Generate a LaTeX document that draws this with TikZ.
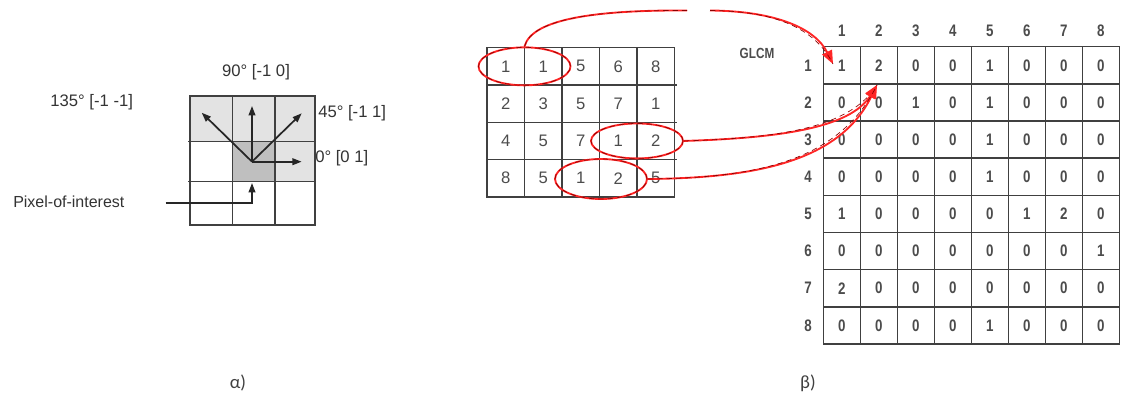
\documentclass[tikz,border=0pt]{standalone}
\usepackage{fontspec}
\setmainfont{Liberation Sans}
\newfontfamily\condfont[FakeStretch=0.8]{Liberation Sans}
\newfontfamily\calibfont{Carlito}
\usetikzlibrary{arrows.meta,calc,shapes.geometric}
\tikzset{
  gridline/.style={draw=black!75, line width=1.1pt},
  lbl/.style={font=\fontsize{12.5}{13}\selectfont, text=black!80, inner sep=0pt},
  dirarrow/.style={-{Triangle[length=7pt,width=5pt]}, line width=1.3pt, draw=black!85},
  cellnum/.style={font=\fontsize{12.5}{13}\selectfont, text=black!70, inner sep=0pt},
  glcmnum/.style={font=\condfont\bfseries\fontsize{12.5}{13}\selectfont, text=black!70, inner sep=0pt},
  redline/.style={draw=red!85!white, line width=1.4pt,
    postaction={draw=red!55!black, line width=0.5pt, dash pattern=on 4pt off 3pt, arrows=-}},
  redarrow/.style={redline, -{Triangle[length=10pt,width=8pt]}},
  redell/.style={ellipse, redline, inner sep=0pt},
  caption/.style={font=\calibfont\fontsize{14}{15}\selectfont, text=black!75, inner sep=0pt}
}
\begin{document}
\begin{tikzpicture}[x=0.75pt,y=-0.75pt]
\useasboundingbox (0,0) rectangle (1121,398);

% ---------- left: directions ----------
\fill[gray!22] (190,96) rectangle (315,141.7);
\fill[gray!22] (275,141.7) rectangle (315,181.7);
\fill[gray!50] (232.3,141.7) rectangle (275,181.7);
\draw[gridline] (190,96) rectangle (315,225);
\foreach \x in {232.3,275} \draw[gridline] (\x,96) -- (\x,225);
\foreach \y in {141.7,181.7} \draw[gridline] (188,\y) -- (315,\y);

\coordinate (O) at (252,161.7);
\coordinate (d135) at (201.7,112.7);
\coordinate (d90) at (252,106);
\coordinate (d45) at (301.7,113.3);
\coordinate (d0) at (301.7,161.7);
\draw[dirarrow] (O) -- (d135);
\draw[dirarrow] (O) -- (d90);
\draw[dirarrow] (O) -- (d45);
\draw[dirarrow] (O) -- (d0);

\node[lbl] (l90) at (256,71.7) {90° [-1 0]};
\node[lbl] (l135) at (91.7,101.7) {135° [-1 -1]};
\node[lbl, anchor=west] (l45) at (318,113.3) {45° [-1 1]};
\node[lbl, anchor=west] (l0) at (315,158) {0° [0 1]};
\node[lbl, anchor=west, font=\fontsize{12}{13}\selectfont] (lpix) at (13,201.7) {Pixel-of-interest};
\coordinate (p0) at (165.7,202.7);
\coordinate (pt) at (252,183);
\draw[dirarrow] (p0) -| (pt);

\node[caption] (alpha) at (238,383) {α)};

% ---------- middle: image ----------
\draw[gridline] (487,47.7) rectangle (674.5,196.9);
\foreach \k in {1,...,4} \draw[gridline] ({487+37.5*\k},47.7) -- ({487+37.5*\k},196.9);
\foreach \k in {1,...,3} \draw[gridline] (487,{47.7+37.3*\k}) -- (676.5,{47.7+37.3*\k});
\foreach \row [count=\r] in {{1,1,5,6,8},{2,3,5,7,1},{4,5,7,1,2},{8,5,1,2,5}} {
  \foreach \v [count=\c] in \row {
    \node[cellnum] (a-\r-\c) at ({505.75+37.5*(\c-1)},{66.35+37.3*(\r-1)}) {\v};
  }
}
\node[redell, minimum width=69pt, minimum height=28.5pt] (e1) at (524.5,66.35) {};
\node[redell, minimum width=69pt, minimum height=26.25pt] (e2) at (637,140.95) {};
\node[redell, minimum width=69pt, minimum height=30pt] (e3) at (601,179) {};

% ---------- right: GLCM ----------
\node[font=\condfont\bfseries\fontsize{11}{12}\selectfont, text=black!70, inner sep=0pt] (glcm) at (757,53) {GLCM};
\draw[gridline] (823.3,46.7) rectangle (1119.3,344);
\foreach \k in {1,...,7} \draw[gridline] ({823.3+37*\k},46.7) -- ({823.3+37*\k},344);
\foreach \k in {1,...,7} \draw[gridline] (823.3,{46.7+37.16*\k}) -- (1119.3,{46.7+37.16*\k});
\foreach \k in {1,...,8} {
  \node[glcmnum] (ch-\k) at ({841.8+37*(\k-1)},31) {\k};
  \node[glcmnum] (rh-\k) at (808,{65.3+37.16*(\k-1)}) {\k};
}
\foreach \row [count=\r] in {{1,2,0,0,1,0,0,0},{0,0,1,0,1,0,0,0},{0,0,0,0,1,0,0,0},{0,0,0,0,1,0,0,0},{1,0,0,0,0,1,2,0},{0,0,0,0,0,0,0,1},{2,0,0,0,0,0,0,0},{0,0,0,0,1,0,0,0}} {
  \foreach \v [count=\c] in \row {
    \node[glcmnum] (m-\r-\c) at ({841.8+37*(\c-1)},{65.3+37.16*(\r-1)}) {\v};
  }
}
\node[caption] (beta) at (808,383) {β)};

% ---------- red connectors ----------
\coordinate (gL) at (687,10.5);
\coordinate (gR) at (710,10.5);
\coordinate (t1) at (833,64);
\coordinate (t2) at (877,85);
\draw[redline] (e1.north) .. controls (532,18) and (600,10) .. (gL);
\draw[redarrow] (gR) .. controls (775,11) and (815,28) .. (t1);
\draw[redarrow] (e2.east) .. controls (780,138) and (850,128) .. (t2);
\draw[redarrow] (e3.east) .. controls (760,178) and (840,160) .. (t2);
\end{tikzpicture}
\end{document}
